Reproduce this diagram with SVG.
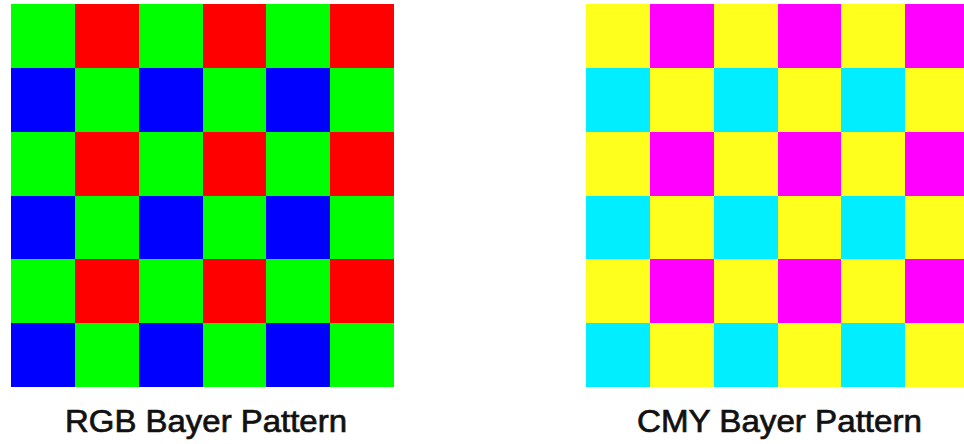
<svg xmlns="http://www.w3.org/2000/svg" width="964" height="444" viewBox="0 0 964 444">
<style>
rect{shape-rendering:crispEdges}
.g{fill:#00ff00}.r{fill:#ff0000}.b{fill:#0000ff}
.y{fill:#ffff1e}.m{fill:#ff00ff}.c{fill:#00eeff}
.lbl{font-family:"Liberation Sans",Arial,sans-serif;font-size:31px;fill:#111;stroke:#111;stroke-width:0.7;text-anchor:middle}
</style>
<defs>
<g id="rgbPair">
<rect class="g" x="0" y="0" width="64" height="64"/><rect class="r" x="64" y="0" width="64" height="64"/>
<rect class="b" x="0" y="64" width="64" height="64"/><rect class="g" x="64" y="64" width="64" height="64"/>
</g>
<g id="cmyPair">
<rect class="y" x="0" y="0" width="64" height="64"/><rect class="m" x="64" y="0" width="64" height="64"/>
<rect class="c" x="0" y="64" width="64" height="64"/><rect class="y" x="64" y="64" width="64" height="64"/>
</g>
</defs>
<rect width="964" height="444" fill="#ffffff"/>
<g id="rgb-grid" transform="translate(11,4)">
<use href="#rgbPair" x="0" y="0"/><use href="#rgbPair" x="127.6" y="0"/><use href="#rgbPair" x="255.2" y="0"/>
<use href="#rgbPair" x="0" y="127.6"/><use href="#rgbPair" x="127.6" y="127.6"/><use href="#rgbPair" x="255.2" y="127.6"/>
<use href="#rgbPair" x="0" y="255.2"/><use href="#rgbPair" x="127.6" y="255.2"/><use href="#rgbPair" x="255.2" y="255.2"/>
</g>
<g id="cmy-grid" transform="translate(586,4)">
<use href="#cmyPair" x="0" y="0"/><use href="#cmyPair" x="127.6" y="0"/><use href="#cmyPair" x="255.2" y="0"/>
<use href="#cmyPair" x="0" y="127.6"/><use href="#cmyPair" x="127.6" y="127.6"/><use href="#cmyPair" x="255.2" y="127.6"/>
<use href="#cmyPair" x="0" y="255.2"/><use href="#cmyPair" x="127.6" y="255.2"/><use href="#cmyPair" x="255.2" y="255.2"/>
</g>
<g id="labels">
<text class="lbl" x="206" y="432" textLength="282" lengthAdjust="spacingAndGlyphs">RGB Bayer Pattern</text>
<text class="lbl" x="779.5" y="432" textLength="285" lengthAdjust="spacingAndGlyphs">CMY Bayer Pattern</text>
</g>
</svg>
